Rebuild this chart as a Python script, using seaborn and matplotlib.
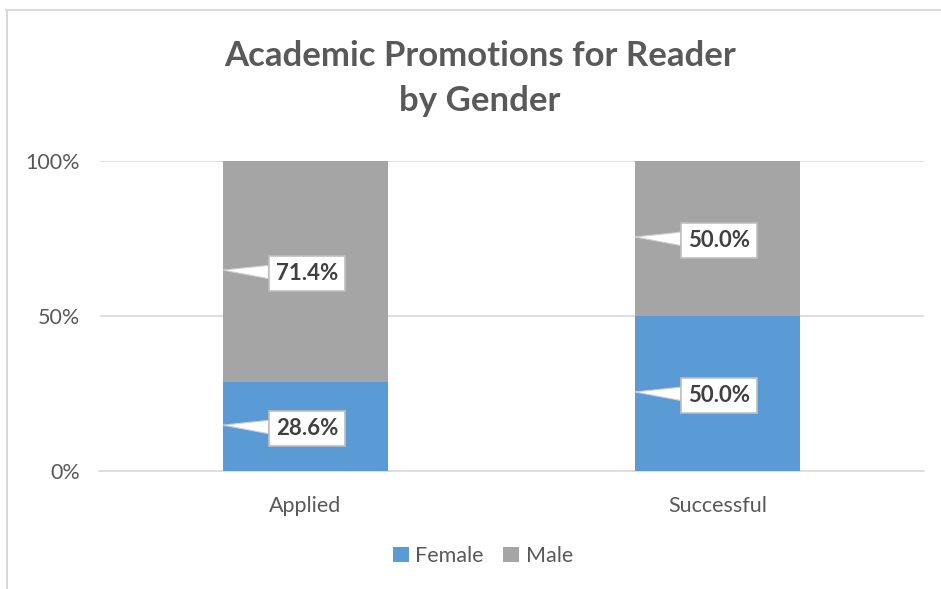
import matplotlib
matplotlib.use("Agg")
import matplotlib.pyplot as plt
import seaborn as sns
import pandas as pd
from matplotlib.patches import Patch
from matplotlib.lines import Line2D

categories = ["Applied", "Successful"]
female = [28.6, 50.0]
male = [71.4, 50.0]
series_names = ["Female", "Male"]
yticks = [0, 50, 100]
ytick_labels = ["0%", "50%", "100%"]

BLUE = "#5B9BD5"
GRAY = "#A5A5A5"
TEXT = "#595959"

sns.set_theme(style="white")
plt.rcParams["font.family"] = ["Lato", "DejaVu Sans"]

W, H = 941, 589
fig = plt.figure(figsize=(W / 100, H / 100), dpi=100)
ax = fig.add_axes([99.5 / W, 1 - 471 / H, (923.5 - 99.5) / W, (471 - 161) / H])

df = pd.DataFrame({"cat": categories, "female": female,
                   "total": [f + m for f, m in zip(female, male)]})

sns.barplot(data=df, x="cat", y="total", color=GRAY, width=0.4,
            saturation=1, ax=ax, zorder=2)
sns.barplot(data=df, x="cat", y="female", color=BLUE, width=0.4,
            saturation=1, ax=ax, zorder=3)
for p in ax.patches:
    p.set_edgecolor("none")

ax.set_xlim(-0.5, 1.5)
ax.set_ylim(0, 100)
ax.set_yticks(yticks)
ax.set_yticklabels(ytick_labels)
ax.yaxis.grid(True, color="#D9D9D9", linewidth=1.2, zorder=0)
ax.set_axisbelow(True)
for s in ["top", "right", "left"]:
    ax.spines[s].set_visible(False)
ax.spines["bottom"].set_color("#D9D9D9")
ax.spines["bottom"].set_linewidth(1.2)
ax.set_xlabel("")
ax.set_ylabel("")
ax.tick_params(axis="y", length=0, pad=14, labelsize=15.5, labelcolor=TEXT)
ax.tick_params(axis="x", length=0, pad=18, labelsize=15.5, labelcolor=TEXT)

# data label callouts
for i, (f, m) in enumerate(zip(female, male)):
    for val, mid in [(f, f / 2), (m, f + m / 2)]:
        ax.annotate(f"{val:.1f}%", xy=(i - 0.2, mid + 0.5), xycoords="data",
                    xytext=(i + 0.004, mid - 0.6), textcoords="data",
                    ha="center", va="center", fontsize=16, fontweight="bold",
                    color="#404040", zorder=5,
                    bbox=dict(boxstyle="square,pad=0.3", fc="white",
                              ec="#BFBFBF", lw=1.2),
                    arrowprops=dict(arrowstyle="wedge,tail_width=0.6,shrink_factor=0.5",
                                    fc="white", ec="#D0D0D0", lw=0.8,
                                    shrinkA=0, shrinkB=0))

fig.text(480 / W, 1 - 56 / H, "Academic Promotions for Reader", ha="center",
         va="center", fontsize=25, fontweight="bold", color=TEXT)
fig.text(480 / W, 1 - 101 / H, "by Gender", ha="center",
         va="center", fontsize=25, fontweight="bold", color=TEXT)

handles = [Patch(facecolor=BLUE, edgecolor="none"), Patch(facecolor=GRAY, edgecolor="none")]
fig.legend(handles, series_names, loc="center", bbox_to_anchor=(483 / W, 1 - 556 / H),
           ncol=2, frameon=False, fontsize=15.5, handlelength=0.75, handleheight=0.75,
           handletextpad=0.3, columnspacing=0.9, labelcolor=TEXT)

# chart border (top and left visible)
fig.add_artist(Line2D([6 / W, 1], [1 - 10 / H, 1 - 10 / H], color="#D9D9D9", lw=1.5))
fig.add_artist(Line2D([6.5 / W, 6.5 / W], [0, 1 - 10 / H], color="#D9D9D9", lw=1.5))

fig.savefig("out.png", dpi=100, facecolor="white")
